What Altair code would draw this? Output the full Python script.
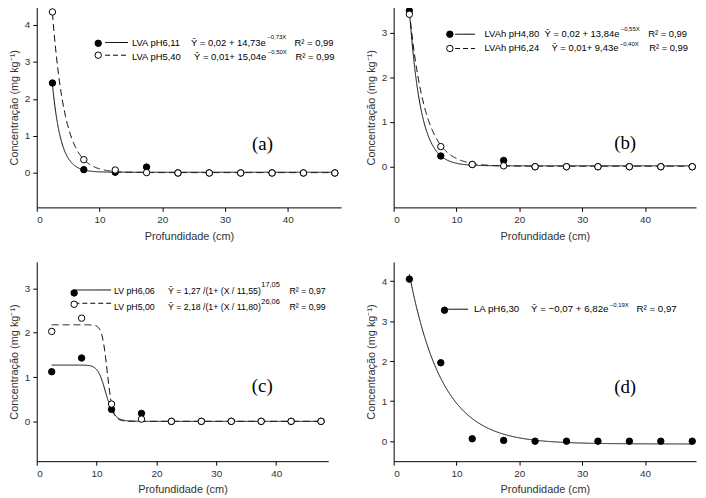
import altair as alt
import pandas as pd

# ---------------- data ----------------
depth = [2.5, 7.5, 12.5, 17.5, 22.5, 27.5, 32.5, 37.5, 42.5, 47.5]

a_lva_611 = [2.43, 0.09, 0.02, 0.16, 0.0, 0.0, 0.0, 0.0, 0.0, 0.0]
a_lva_540 = [4.35, 0.36, 0.08, 0.01, 0.0, 0.0, 0.0, 0.0, 0.0, 0.0]
b_lvah_480 = [3.49, 0.24, 0.05, 0.14, 0.0, 0.0, 0.0, 0.0, 0.0, 0.0]
b_lvah_624 = [3.41, 0.45, 0.05, 0.02, 0.0, 0.0, 0.0, 0.0, 0.0, 0.0]
c_lv_606 = [1.12, 1.43, 0.27, 0.18, 0.0, 0.0, 0.0, 0.0, 0.0, 0.0]
c_lv_500 = [2.03, 2.33, 0.39, 0.05, 0.0, 0.0, 0.0, 0.0, 0.0, 0.0]
d_la_630 = [4.05, 1.96, 0.06, 0.02, 0.0, 0.0, 0.0, 0.0, 0.0, 0.0]

# fitted model coefficients, as printed on the chart
exp_a_611 = [0.02, 14.73, 0.73]   # y = c0 + c1*exp(-c2*x)
exp_a_540 = [0.01, 15.04, 0.50]
exp_b_480 = [0.02, 13.84, 0.55]
exp_b_624 = [0.01, 9.43, 0.40]
exp_d_630 = [-0.07, 6.82, 0.19]
log_c_606 = [1.27, 11.55, 17.05]  # y = c0 / (1 + (x/c1)^c2)
log_c_500 = [2.18, 11.80, 26.06]

x_ticks = [0, 10, 20, 30, 40]

FONT = "Liberation Sans"
SERIF = "Liberation Serif"
INK = "#000000"
LAB = "#333333"
Y_TITLE = "Concentração (mg kg⁻¹)"
X_TITLE = "Profundidade (cm)"


def exp_expr(c):
    return f"{c[0]} + {c[1]} * exp(-{c[2]} * datum.x)"


def log_expr(c):
    return f"{c[0]} / (1 + pow(datum.x / {c[1]}, {c[2]}))"


def one():
    return alt.Chart(alt.Data(values=[{}]))


def panel(width, height, xdom, ydom, yticks, series, curves, legend, label, label_pos, fs=9.5):
    xs = alt.Scale(domain=xdom, nice=False, zero=False)
    ys = alt.Scale(domain=ydom, nice=False, zero=False)
    xax = alt.Axis(values=x_ticks, title=X_TITLE, format="d")
    yax = alt.Axis(values=yticks, title=Y_TITLE, format="d")
    layers = []
    for expr, dashed in curves:
        m = alt.Chart(alt.sequence(2.5, 47.55, 0.05, as_="x")).transform_calculate(
            y=expr
        ).mark_line(color=INK, strokeWidth=1, strokeDash=[7, 4] if dashed else [1, 0], clip=True)
        layers.append(m.encode(x=alt.X("x:Q", scale=xs, axis=xax),
                               y=alt.Y("y:Q", scale=ys, axis=yax)))
    for vals, filled in series:
        df = pd.DataFrame({"x": depth, "y": vals})
        m = alt.Chart(df).mark_point(
            shape="circle", size=42, filled=True,
            fill=INK if filled else "white", stroke=INK, strokeWidth=1, opacity=1,
        ).encode(x=alt.X("x:Q", scale=xs, axis=xax), y=alt.Y("y:Q", scale=ys, axis=yax))
        layers.append(m)
    # legend glyphs and texts
    for row in legend:
        (mx, my, filled, lx1, lx2, ly, dashed, name_x, name_y, name, eq_right, eq, sup_x, sup_y, sup,
         sup_size, r_x, r_txt) = row
        layers.append(one().mark_rule(
            color=INK, strokeWidth=1, strokeDash=[5, 3] if dashed else [1, 0]
        ).encode(x=alt.value(lx1), x2=alt.value(lx2), y=alt.value(ly), y2=alt.value(ly)))
        layers.append(one().mark_point(
            shape="circle", size=42, filled=True, fill=INK if filled else "white",
            stroke=INK, strokeWidth=1, opacity=1
        ).encode(x=alt.value(mx), y=alt.value(my)))
        layers.append(one().mark_text(
            text=name, font=FONT, fontSize=fs, align="left", baseline="middle", color=INK
        ).encode(x=alt.value(name_x), y=alt.value(name_y)))
        layers.append(one().mark_text(
            text=eq, font=FONT, fontSize=fs, align="right", baseline="middle", color=INK
        ).encode(x=alt.value(eq_right), y=alt.value(name_y)))
        layers.append(one().mark_text(
            text=sup, font=FONT, fontSize=sup_size, align="left", baseline="middle", color=INK
        ).encode(x=alt.value(sup_x), y=alt.value(sup_y)))
        layers.append(one().mark_text(
            text=r_txt, font=FONT, fontSize=fs, align="left", baseline="middle", color=INK
        ).encode(x=alt.value(r_x), y=alt.value(name_y)))
    layers.append(one().mark_text(
        text=label, font=SERIF, fontSize=19, align="center", baseline="middle", color=INK
    ).encode(x=alt.value(label_pos[0]), y=alt.value(label_pos[1])))
    return alt.layer(*layers).properties(width=width, height=height)


pa = panel(
    307, 202, [0, 48.5], [-0.93, 4.48], [0, 1, 2, 3, 4],
    [(a_lva_611, True), (a_lva_540, False)],
    [(exp_expr(exp_a_611), False), (exp_expr(exp_a_540), True)],
    [
        (62, 36.5, True, 69, 92, 35.7, False, 96, 35.7, "LVA pH6,11", 231,
         "Ŷ = 0,02 + 14,73e", 232.5, 30.5, "−0,73X", 6, 260, "R² = 0,99"),
        (62, 48.5, False, 69, 92, 48.5, True, 96, 50, "LVA pH5,40", 231.5,
         "Ŷ = 0,01+ 15,04e", 233, 45, "−0,50X", 6, 261, "R² = 0,99"),
    ],
    "(a)", (227.7, 137.7),
)

pb = panel(
    305, 202, [0, 48.1], [-0.91, 3.57], [0, 1, 2, 3],
    [(b_lvah_480, True), (b_lvah_624, False)],
    [(exp_expr(exp_b_480), False), (exp_expr(exp_b_624), True)],
    [
        (56.7, 27.3, True, 62, 82, 27.3, False, 91.7, 27.3, "LVAh pH4,80", 227.7,
         "Ŷ = 0,02 + 13,84e", 229, 22.5, "−0,55X", 6, 256.7, "R² = 0,99"),
        (56.7, 41.7, False, 62, 82, 41.7, True, 91.7, 41.7, "LVAh pH6,24", 226.7,
         "Ŷ = 0,01+ 9,43e", 228, 37, "−0,40X", 6, 257.7, "R² = 0,99"),
    ],
    "(b)", (233.5, 136.7),
)

pc = panel(
    294, 201, [0, 48.7], [-0.9, 3.6], [0, 1, 2, 3],
    [(c_lv_606, True), (c_lv_500, False)],
    [(log_expr(log_c_606), False), (log_expr(log_c_500), True)],
    [
        (37.7, 31.3, True, 38, 75, 28.3, False, 78, 29, "LV pH6,06", 226,
         "Ŷ = 1,27 /(1+ (X / 11,55)", 226.5, 23.5, "17,05", 7.5, 255, "R² = 0,97"),
        (37.7, 42.7, False, 38, 75, 41.7, True, 78, 46, "LV pH5,00", 226,
         "Ŷ = 2,18 /(1+ (X / 11,80)", 226.5, 40.5, "26,06", 7.5, 255, "R² = 0,99"),
    ],
    "(c)", (227.5, 125), fs=8.8,
)

pd_ = panel(
    305, 201, [0, 48.1], [-0.5, 4.48], [0, 1, 2, 3, 4],
    [(d_la_630, True)],
    [(exp_expr(exp_d_630), False)],
    [
        (51.3, 48.7, True, 51, 75, 47.7, False, 81, 47.3, "LA pH6,30", 216.7,
         "Ŷ = −0,07 + 6,82e", 218, 43, "−0,19X", 6, 245, "R² = 0,97"),
    ],
    "(d)", (233.5, 126), fs=9.8,
)

chart = alt.vconcat(
    alt.hconcat(pa, pb, spacing=24),
    alt.hconcat(pc, pd_, spacing=37),
    spacing=21,
    padding={"left": 0, "top": -5, "right": 0, "bottom": 0},
).configure_view(stroke=None).configure_axis(
    grid=False,
    domainColor=INK,
    domainWidth=1,
    tickColor=INK,
    tickSize=4,
    tickWidth=1,
    labelFont=FONT,
    labelFontSize=10,
    labelColor=LAB,
    labelPadding=3,
    titleFont=FONT,
    titleFontSize=11,
    titleFontWeight="normal",
    titleColor=LAB,
    titlePadding=6,
).configure_axisY(titlePadding=5)

chart.save("out.html", embed_options={"renderer": "svg", "actions": False})
